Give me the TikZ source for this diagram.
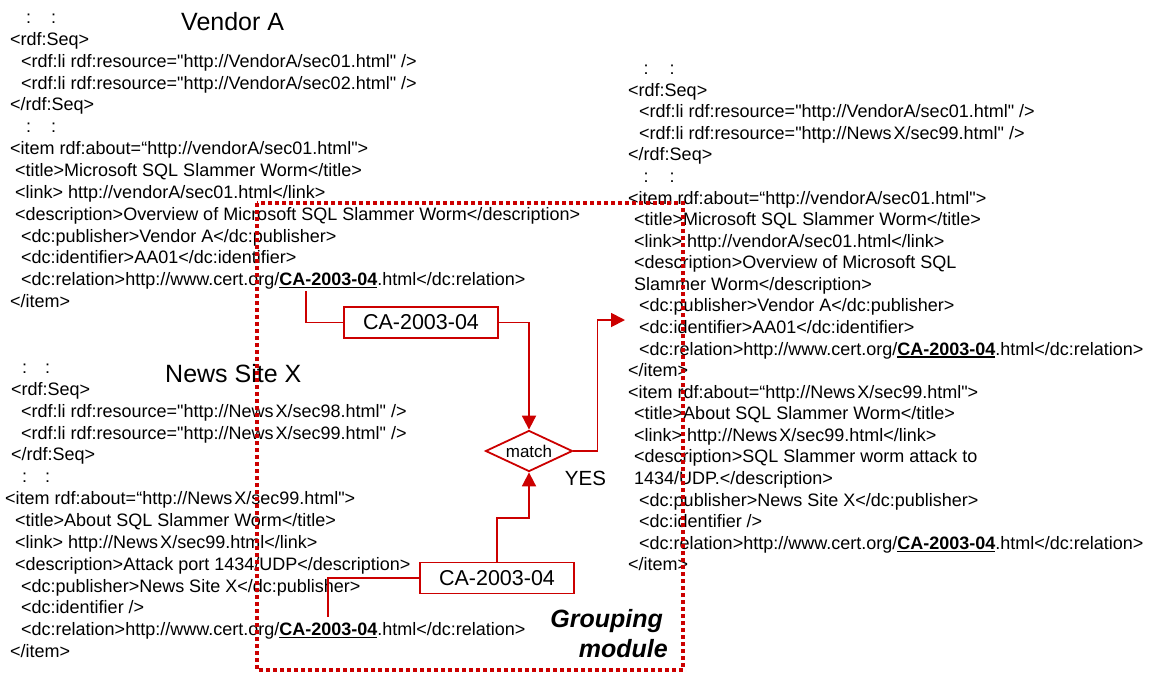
\documentclass[tikz,border=0pt]{standalone}
\usepackage{fontspec}
\setmainfont{Liberation Sans}[Ligatures=TeXOff]
\usetikzlibrary{arrows.meta,shapes.geometric}
\definecolor{rd}{RGB}{204,0,0}
\newcommand{\ca}{\setbox0\hbox{\bfseries CA-2003-04}\rlap{\rule[-2.5pt]{\wd0}{1.3pt}}\box0}
\newcommand{\nx}{News\kern2pt X}
\begin{document}
\begin{tikzpicture}[x=1pt,y=-1pt,
  t/.style={anchor=base west,inner sep=0pt,font=\fontsize{18}{21}\selectfont},
  big/.style={anchor=base west,inner sep=0pt,font=\fontsize{25}{28}\selectfont},
  cabox/.style={draw=rd,line width=1.8pt,minimum width=154pt,minimum height=31pt,inner sep=0pt,font=\fontsize{21.5}{24}\selectfont},
  matchbox/.style={diamond,draw=rd,line width=1.8pt,aspect=2.12,minimum width=87pt,minimum height=41pt,inner sep=0pt,font=\fontsize{17}{20}\selectfont},
  conn/.style={draw=rd,line width=1.8pt},
  tip/.tip={Triangle[length=14pt,width=14pt]},
  grp/.style={draw=rd,line width=4pt,dash pattern=on 4pt off 3pt}]
\useasboundingbox (0,0) rectangle (1150,673);
% ---------- Vendor A block ----------
\node[big] (vA) at (181,30) {Vendor A};
\node[t] (a0) at (26,23.5) {:\hspace{20pt}:};
\node[t] (a1) at (10,45.4) {<rdf:Seq>};
\node[t] (a2) at (21,67.2) {<rdf:li rdf:resource="http://VendorA/sec01.html" />};
\node[t] (a3) at (21,89.1) {<rdf:li rdf:resource="http://VendorA/sec02.html" />};
\node[t] (a4) at (10,110.9) {</rdf:Seq>};
\node[t] (a5) at (26,132.8) {:\hspace{20pt}:};
\node[t] (a6) at (10,154.6) {<item rdf:about=“http://vendorA/sec01.html">};
\node[t] (a7) at (15,176.5) {<title>Microsoft SQL Slammer Worm</title>};
\node[t] (a8) at (15,198.3) {<link> http://vendorA/sec01.html</link>};
\node[t] (a9) at (15,220.2) {<description>Overview of Microsoft SQL Slammer Worm</description>};
\node[t] (a10) at (21,242) {<dc:publisher>Vendor A</dc:publisher>};
\node[t] (a11) at (21,263.9) {<dc:identifier>AA01</dc:identifier>};
\node[t] (a12) at (21,285.7) {<dc:relation>http://www.cert.org/\ca.html</dc:relation>};
\node[t] (a13) at (10,307.6) {</item>};
% ---------- News Site X block ----------
\node[big] (nX) at (165,382) {News Site X};
\node[t] (b0) at (22,373.5) {:\hspace{18pt}:};
\node[t] (b1) at (11,395.4) {<rdf:Seq>};
\node[t] (b2) at (21,417.2) {<rdf:li rdf:resource="http://\nx/sec98.html" />};
\node[t] (b3) at (21,439.1) {<rdf:li rdf:resource="http://\nx/sec99.html" />};
\node[t] (b4) at (11,460.9) {</rdf:Seq>};
\node[t] (b5) at (22,482.8) {:\hspace{18pt}:};
\node[t] (b6) at (5,504.6) {<item rdf:about=“http://\nx/sec99.html">};
\node[t] (b7) at (15,526.5) {<title>About SQL Slammer Worm</title>};
\node[t] (b8) at (15,548.3) {<link> http://\nx/sec99.html</link>};
\node[t] (b9) at (15,570.2) {<description>Attack port 1434/UDP</description>};
\node[t] (b10) at (21,592) {<dc:publisher>News Site X</dc:publisher>};
\node[t] (b11) at (21,613.9) {<dc:identifier />};
\node[t] (b12) at (21,635.7) {<dc:relation>http://www.cert.org/\ca.html</dc:relation>};
\node[t] (b13) at (10,657.6) {</item>};
% ---------- merged block ----------
\node[t] (c0) at (643.5,74.5) {:\hspace{21pt}:};
\node[t] (c1) at (628,96.1) {<rdf:Seq>};
\node[t] (c2) at (639,117.7) {<rdf:li rdf:resource="http://VendorA/sec01.html" />};
\node[t] (c3) at (639,139.2) {<rdf:li rdf:resource="http://\nx/sec99.html" />};
\node[t] (c4) at (628,160.8) {</rdf:Seq>};
\node[t] (c5) at (643.5,182.4) {:\hspace{21pt}:};
\node[t] (c6) at (628,204) {<item rdf:about=“http://vendorA/sec01.html">};
\node[t] (c7) at (634,225.6) {<title>Microsoft SQL Slammer Worm</title>};
\node[t] (c8) at (634,247.1) {<link> http://vendorA/sec01.html</link>};
\node[t] (c9) at (634,268.7) {<description>Overview of Microsoft SQL};
\node[t] (c10) at (634,290.3) {Slammer Worm</description>};
\node[t] (c11) at (639,311.9) {<dc:publisher>Vendor A</dc:publisher>};
\node[t] (c12) at (639,333.5) {<dc:identifier>AA01</dc:identifier>};
\node[t] (c13) at (639,355) {<dc:relation>http://www.cert.org/\ca.html</dc:relation>};
\node[t] (c14) at (628,376.6) {</item>};
\node[t] (c15) at (628,398.2) {<item rdf:about=“http://\nx/sec99.html">};
\node[t] (c16) at (634,419.8) {<title>About SQL Slammer Worm</title>};
\node[t] (c17) at (634,441.4) {<link> http://\nx/sec99.html</link>};
\node[t] (c18) at (634,462.9) {<description>SQL Slammer worm attack to};
\node[t] (c19) at (634,484.5) {1434/UDP.</description>};
\node[t] (c20) at (639,506.1) {<dc:publisher>News Site X</dc:publisher>};
\node[t] (c21) at (639,527.7) {<dc:identifier />};
\node[t] (c22) at (639,549.3) {<dc:relation>http://www.cert.org/\ca.html</dc:relation>};
\node[t] (c23) at (628,570.8) {</item>};
% ---------- grouping module ----------
\node[cabox,fill=white] (box1) at (421,322.5) {CA-2003-04};
\node[cabox,fill=white] (box2) at (497,578) {CA-2003-04};
\node[matchbox,fill=white] (match) at (529,451) {match};
\node[inner sep=0pt,font=\fontsize{20.5}{24}\selectfont] (yes) at (585.5,478) {YES};
\node[anchor=base east,inner sep=0pt,font=\fontsize{25}{28}\selectfont\bfseries\itshape] (g1) at (663,627) {Grouping};
\node[anchor=base east,inner sep=0pt,font=\fontsize{25}{28}\selectfont\bfseries\itshape] (g2) at (668,657) {module};
\coordinate (u1) at (306,291);
\coordinate (u2) at (328,617);
\coordinate (tgt) at (625,320);
\path[conn] (u1) |- (box1.west);
\path[conn,-tip] (box1.east) -| (match.north);
\path[conn,-tip] (match.east) -- ++(24,0) |- (tgt);
\path[conn,-tip] (box2.north) -- ++(0,-44) -| (match.south);
\path[conn] (box2.west) -| (u2);
\draw[grp] (257,203) rectangle (683,670);
\end{tikzpicture}
\end{document}
